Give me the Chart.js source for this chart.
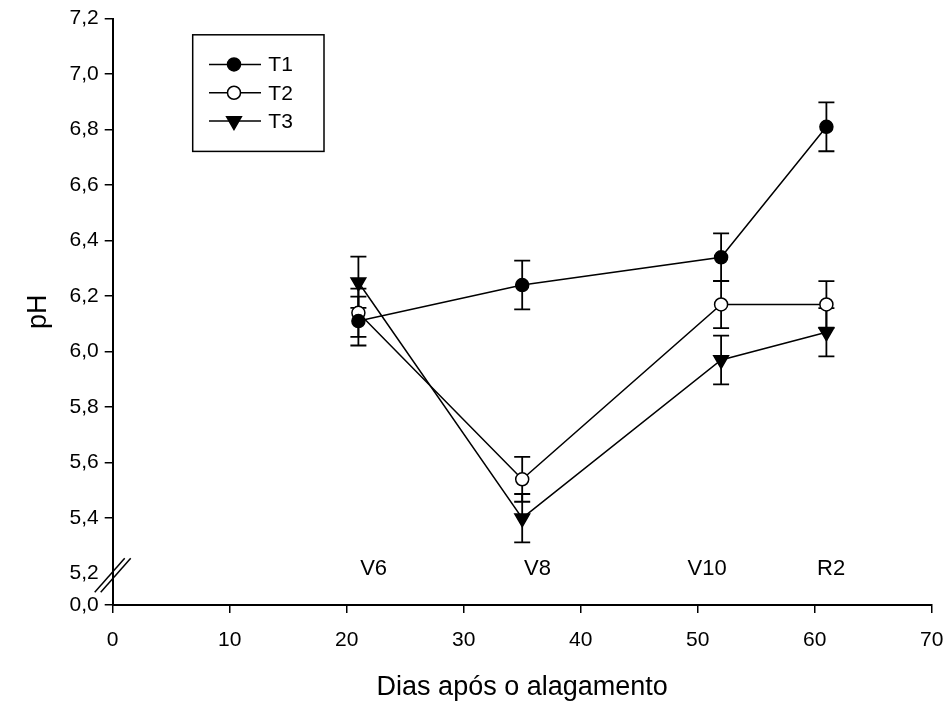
<!DOCTYPE html>
<html>
<head>
<meta charset="utf-8">
<title>pH do solo</title>
<script src="https://cdn.jsdelivr.net/npm/chart.js@4.4.1/dist/chart.umd.min.js"></script>
<style>
  html, body { margin: 0; padding: 0; background: #fff; }
  #wrap { width: 949px; height: 704px; }
</style>
</head>
<body>
<div id="wrap"><canvas id="phChart" width="949" height="704"></canvas></div>
<script>
// sampling days after flooding
const days = [21, 35, 52, 61];

// mean pH per treatment
const t1 = [6.11, 6.24, 6.34, 6.81];
const t2 = [6.14, 5.54, 6.17, 6.17];
const t3 = [6.25, 5.40, 5.97, 6.07];

// error bar half-lengths
const t1Err = [0.088, 0.088, 0.086, 0.088];
const t2Err = [0.087, 0.081, 0.085, 0.084];
const t3Err = [0.092, 0.087, 0.088, 0.087];

// crop stage notes written above the x axis
const stageLabels = ["V6", "V8", "V10", "R2"];
const stageDays = [22.3, 36.3, 50.8, 61.4];

const xTicks = [0, 10, 20, 30, 40, 50, 60, 70];
const yTicks = [5.2, 5.4, 5.6, 5.8, 6.0, 6.2, 6.4, 6.6, 6.8, 7.0, 7.2];
// broken axis: the bottom of the y axis stands for 0,0
const yBottom = 5.087;

const FONT = '"Liberation Sans", Arial, Helvetica, sans-serif';

function toPoints(values) {
    return days.map((d, i) => ({ x: d, y: values[i] }));
}

function series(label, values, errors, fill, style, radius, rotation) {
    return {
        label: label,
        data: toPoints(values),
        errors: errors,
        borderColor: "#000",
        borderWidth: 1.5,
        tension: 0,
        pointStyle: style,
        pointRadius: radius,
        pointHoverRadius: radius,
        pointRotation: rotation,
        pointBackgroundColor: fill,
        pointBorderColor: "#000",
        pointBorderWidth: 1.5
    };
}

// vertical error bars with caps, drawn under the markers
const errorBars = {
    id: "errorBars",
    beforeDatasetsDraw(chart) {
        const { ctx, scales: { x, y } } = chart;
        ctx.save();
        ctx.strokeStyle = "#000";
        ctx.lineWidth = 1.8;
        chart.data.datasets.forEach(ds => {
            ds.data.forEach((p, i) => {
                const px = x.getPixelForValue(p.x);
                const hi = y.getPixelForValue(p.y + ds.errors[i]);
                const lo = y.getPixelForValue(p.y - ds.errors[i]);
                ctx.beginPath();
                ctx.moveTo(px, hi); ctx.lineTo(px, lo);
                ctx.moveTo(px - 8, hi); ctx.lineTo(px + 8, hi);
                ctx.moveTo(px - 8, lo); ctx.lineTo(px + 8, lo);
                ctx.stroke();
            });
        });
        ctx.restore();
    }
};

// double slash across the y axis between 5,2 and 0,0
const axisBreak = {
    id: "axisBreak",
    afterDraw(chart) {
        const { ctx, chartArea, scales: { y } } = chart;
        const cx = chartArea.left;
        const cy = y.getPixelForValue(5.2) + 1.5;
        ctx.save();
        ctx.strokeStyle = "#000";
        ctx.lineWidth = 1.5;
        [-3, 3].forEach(off => {
            ctx.beginPath();
            ctx.moveTo(cx - 15 + off, cy + 17);
            ctx.lineTo(cx + 15 + off, cy - 17);
            ctx.stroke();
        });
        ctx.restore();
    }
};

const stageText = {
    id: "stageText",
    afterDraw(chart) {
        const { ctx, scales: { x, y } } = chart;
        ctx.save();
        ctx.fillStyle = "#000";
        ctx.font = "22px " + FONT;
        ctx.textAlign = "center";
        ctx.textBaseline = "middle";
        stageLabels.forEach((txt, i) => {
            ctx.fillText(txt, x.getPixelForValue(stageDays[i]), y.getPixelForValue(5.2) - 4.5);
        });
        ctx.restore();
    }
};

// framed legend in the upper left of the plot
const boxLegend = {
    id: "boxLegend",
    afterDraw(chart) {
        const { ctx, chartArea } = chart;
        const left = chartArea.left + 80;
        const top = chartArea.top + 16.2;
        const drawPoint = (Chart.helpers && Chart.helpers.drawPoint) || null;
        ctx.save();
        ctx.strokeStyle = "#000";
        ctx.lineWidth = 1.5;
        ctx.strokeRect(left, top, 131.3, 116.6);
        chart.data.datasets.forEach((ds, i) => {
            const yy = top + 29.6 + i * 28.35;
            ctx.strokeStyle = "#000";
            ctx.lineWidth = ds.borderWidth;
            ctx.beginPath();
            ctx.moveTo(left + 16.3, yy);
            ctx.lineTo(left + 68.3, yy);
            ctx.stroke();
            ctx.fillStyle = ds.pointBackgroundColor;
            ctx.strokeStyle = ds.pointBorderColor;
            ctx.lineWidth = ds.pointBorderWidth;
            if (drawPoint) {
                drawPoint(ctx, {
                    pointStyle: ds.pointStyle,
                    rotation: ds.pointRotation,
                    radius: ds.pointRadius,
                    borderWidth: ds.pointBorderWidth
                }, left + 41.3, yy);
            }
            ctx.fillStyle = "#000";
            ctx.font = "21px " + FONT;
            ctx.textAlign = "left";
            ctx.textBaseline = "middle";
            ctx.fillText(ds.label, left + 75.6, yy + 1);
        });
        ctx.restore();
    }
};

const axisLine = {
    color: "#000",
    width: 2
};

new Chart(document.getElementById("phChart"), {
    type: "line",
    data: {
        datasets: [
            series("T1", t1, t1Err, "#000", "circle", 6.5, 0),
            series("T2", t2, t2Err, "#fff", "circle", 6.5, 0),
            series("T3", t3, t3Err, "#000", "triangle", 8.5, 180)
        ]
    },
    options: {
        responsive: false,
        animation: false,
        devicePixelRatio: 1,
        layout: { padding: { left: 0, top: 16.5, right: 17.3, bottom: 0 } },
        plugins: {
            legend: { display: false },
            tooltip: { enabled: false }
        },
        scales: {
            x: {
                type: "linear",
                min: 0,
                max: 70,
                afterBuildTicks: s => { s.ticks = xTicks.map(v => ({ value: v })); },
                afterFit: s => {
                    s.height = 99;
                    // end labels may hang past the plot edges
                    s.paddingLeft = 0;
                    s.paddingRight = 12;
                },
                border: axisLine,
                grid: { drawOnChartArea: false, drawTicks: true, tickLength: 8, color: "#000", lineWidth: 1.5 },
                ticks: {
                    color: "#000",
                    padding: 15,
                    maxRotation: 0,
                    autoSkip: false,
                    font: { family: FONT, size: 21 }
                },
                title: {
                    display: true,
                    text: "Dias após o alagamento",
                    color: "#000",
                    font: { family: FONT, size: 27 },
                    padding: { top: 0, bottom: 0 }
                }
            },
            y: {
                type: "linear",
                min: yBottom,
                max: 7.2,
                afterBuildTicks: s => {
                    s.ticks = [yBottom].concat(yTicks).map(v => ({ value: v }));
                },
                afterFit: s => { s.width = 112.7; },
                border: axisLine,
                grid: {
                    drawOnChartArea: false,
                    drawTicks: true,
                    tickLength: 8,
                    lineWidth: 1.5,
                    color: "#000",
                    tickColor: c => (c.tick && c.tick.value === 5.2) ? "rgba(0,0,0,0)" : "#000"
                },
                ticks: {
                    color: "#000",
                    padding: 6,
                    autoSkip: false,
                    font: { family: FONT, size: 21 },
                    callback: v => v === yBottom ? "0,0" : v.toFixed(1).replace(".", ",")
                },
                title: {
                    display: true,
                    text: "pH",
                    color: "#000",
                    font: { family: FONT, size: 27 },
                    padding: { top: 22, bottom: 0 }
                }
            }
        }
    },
    plugins: [errorBars, axisBreak, stageText, boxLegend]
});
</script>
</body>
</html>
